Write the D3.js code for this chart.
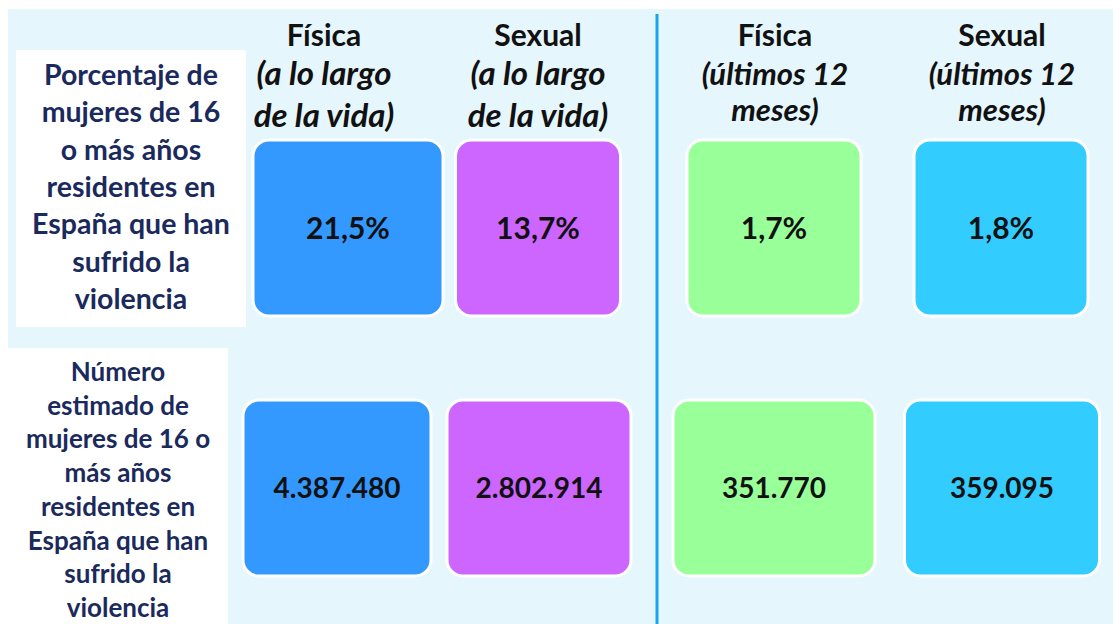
<!DOCTYPE html>
<html>
<head>
<meta charset="utf-8">
<script src="https://cdn.jsdelivr.net/npm/d3@7"></script>
<style>
  body { margin: 0; background: #fff; }
  svg { display: block; font-family: Lato, "Open Sans", sans-serif; }
</style>
</head>
<body>
<svg></svg>
<script>
// tamaño
const width = 1113;
const height = 624;

// datos
const columns = ["fis_vida", "sex_vida", "fis_12", "sex_12"];
const headerTitles = ["Física", "Sexual", "Física", "Sexual"];
const headerSubtitles = [
  ["(a lo largo", "de la vida)"],
  ["(a lo largo", "de la vida)"],
  ["(últimos 12", "meses)"],
  ["(últimos 12", "meses)"]
];
const rows = ["porcentaje", "numero"];
const rowLabels = [
  ["Porcentaje de", "mujeres de 16", "o más años", "residentes en", "España que han", "sufrido la", "violencia"],
  ["Número", "estimado de", "mujeres de 16 o", "más años", "residentes en", "España que han", "sufrido la", "violencia"]
];
const percentValues = [21.5, 13.7, 1.7, 1.8];
const countValues = [4387480, 2802914, 351770, 359095];

// colores
const colors = ["#3399ff", "#cc66ff", "#99ff99", "#33ccff"];

// formato español
const es = d3.formatLocale({ decimal: ",", thousands: ".", grouping: [3], currency: ["", " €"] });
const fmtPct = d => es.format(".1f")(d) + "%";
const fmtNum = es.format(",d");

const svg = d3.select("svg")
  .attr("width", width)
  .attr("height", height);

// escalas de posición
const xCenter = d3.scaleOrdinal().domain(columns).range([348, 538, 774, 1001]);
const xHeader = d3.scaleOrdinal().domain(columns).range([324, 538, 775, 1002]);
const boxWidth = {
  porcentaje: d3.scaleOrdinal().domain(columns).range([190, 165, 174, 174]),
  numero: d3.scaleOrdinal().domain(columns).range([188, 184, 202, 195])
};
const rowCenterShift = {
  porcentaje: d3.scaleOrdinal().domain(columns).range([0, 0, 0, 0]),
  numero: d3.scaleOrdinal().domain(columns).range([-11, 1, 0, 1])
};
const yTop = d3.scaleOrdinal().domain(rows).range([140, 400]);
const boxHeight = 176;
const colorScale = d3.scaleOrdinal().domain(columns).range(colors);
const subLineHeight = d3.scaleOrdinal().domain(columns).range([42, 42, 36, 36]);

// fondo
svg.append("rect")
  .attr("x", 8).attr("y", 9)
  .attr("width", width - 8).attr("height", height - 9)
  .attr("fill", "#e6f6fd");

// línea divisoria
svg.append("line")
  .attr("x1", 657).attr("x2", 657)
  .attr("y1", 14).attr("y2", height)
  .attr("stroke", "#16a6ea")
  .attr("stroke-width", 3);

// cabeceras
const headers = svg.append("g").selectAll("text")
  .data(columns)
  .join("text")
  .attr("text-anchor", "middle")
  .attr("fill", "#111")
  .attr("font-weight", 700);

headers.append("tspan")
  .attr("x", d => xHeader(d))
  .attr("y", 46)
  .attr("font-size", 30)
  .text((d, i) => headerTitles[i]);

headers.each(function (d, i) {
  d3.select(this).selectAll("tspan.sub")
    .data(headerSubtitles[i])
    .join("tspan")
    .attr("class", "sub")
    .attr("x", xHeader(d))
    .attr("y", (s, j) => 85 + j * subLineHeight(d))
    .attr("font-style", "italic")
    .attr("font-size", i < 2 ? 33 : 31)
    .text(s => s);
});

// etiquetas de fila
const labelBoxes = [
  { x: 16, y: 50, w: 230, h: 277, cx: 131, y0: 85, lh: 37.3, fs: 28.5 },
  { x: 8, y: 348, w: 220, h: 276, cx: 118, y0: 381, lh: 33.7, fs: 26 }
];

rows.forEach((r, i) => {
  const lb = labelBoxes[i];
  svg.append("rect")
    .attr("x", lb.x).attr("y", lb.y)
    .attr("width", lb.w).attr("height", lb.h)
    .attr("fill", "#fff");
  svg.append("text")
    .attr("text-anchor", "middle")
    .attr("fill", "#1b2a5c")
    .attr("font-weight", 700)
    .attr("font-size", lb.fs)
    .selectAll("tspan")
    .data(rowLabels[i])
    .join("tspan")
    .attr("x", lb.cx)
    .attr("y", (s, j) => lb.y0 + j * lb.lh)
    .text(s => s);
});

// cajas
const cells = [];
rows.forEach((r, ri) => {
  columns.forEach((c, ci) => {
    cells.push({
      row: r, col: c,
      label: ri === 0 ? fmtPct(percentValues[ci]) : fmtNum(countValues[ci])
    });
  });
});

const cell = svg.append("g").selectAll("g")
  .data(cells)
  .join("g")
  .attr("transform", d => {
    const cx = xCenter(d.col) + rowCenterShift[d.row](d.col);
    return `translate(${cx}, ${yTop(d.row)})`;
  });

cell.append("rect")
  .attr("x", d => -boxWidth[d.row](d.col) / 2)
  .attr("y", 0)
  .attr("width", d => boxWidth[d.row](d.col))
  .attr("height", boxHeight)
  .attr("rx", 16)
  .attr("fill", d => colorScale(d.col))
  .attr("stroke", "#fff")
  .attr("stroke-width", 3);

cell.append("text")
  .attr("x", 0)
  .attr("y", boxHeight / 2)
  .attr("dy", "0.35em")
  .attr("text-anchor", "middle")
  .attr("font-weight", 700)
  .attr("font-size", d => d.row === "porcentaje" ? 30 : 28)
  .attr("fill", "#111")
  .text(d => d.label);
</script>
</body>
</html>
